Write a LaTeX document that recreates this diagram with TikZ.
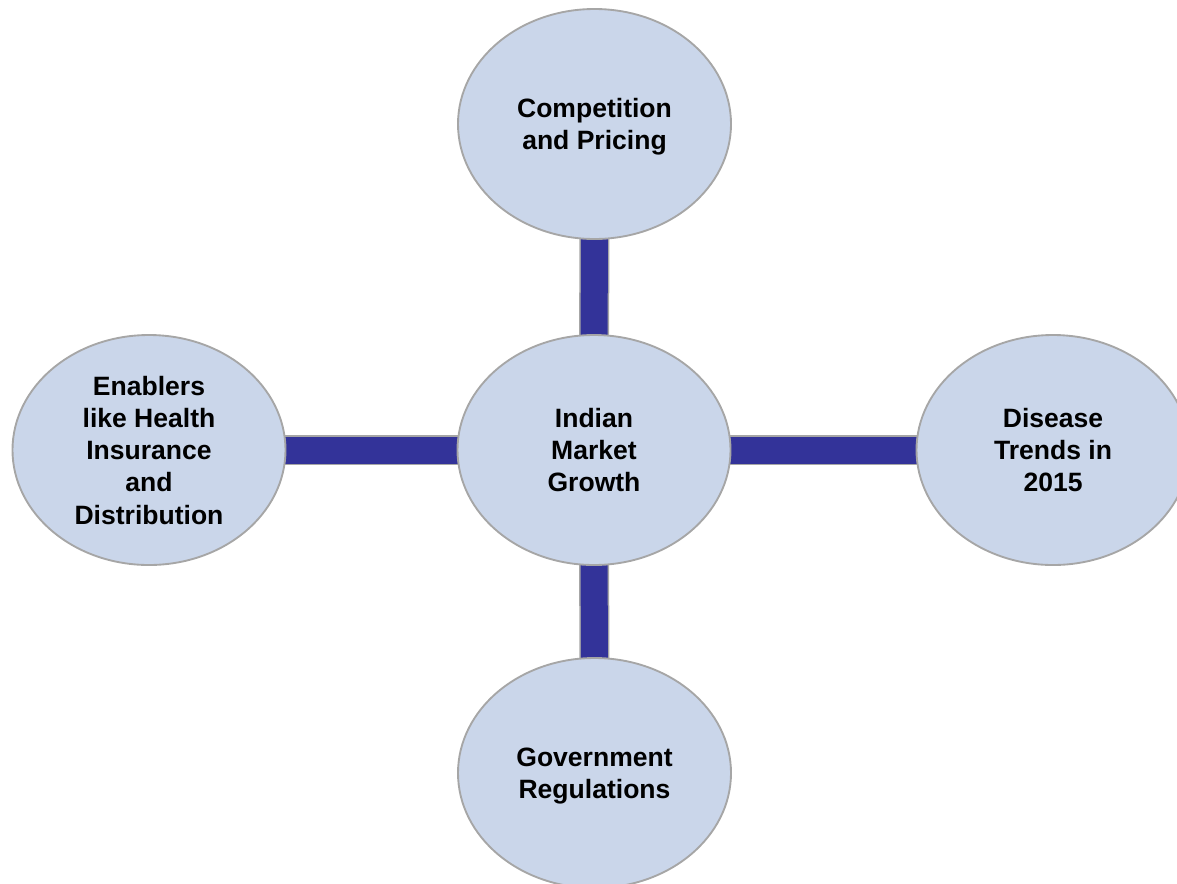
\documentclass[tikz,border=0pt]{standalone}
\usepackage{fontspec}
\setmainfont{Liberation Sans}
\usetikzlibrary{shapes.geometric,backgrounds}
\definecolor{bubblefill}{RGB}{202,214,234}
\definecolor{bubbleline}{RGB}{166,166,166}
\definecolor{barblue}{RGB}{51,51,153}
\tikzset{
  bubble/.style={ellipse, draw=bubbleline, line width=1.4pt, fill=bubblefill,
    minimum width=204.75pt, minimum height=172.5pt, inner sep=0pt,
    align=center, text depth=0pt, font=\fontsize{19.9pt}{24.2pt}\selectfont\bfseries},
  barouter/.style={draw=bubbleline, line width=22.5pt},
  barinner/.style={draw=barblue, line width=20.25pt}
}
\begin{document}
\begin{tikzpicture}[x=0.75pt,y=-0.75pt]
\useasboundingbox (0,0) rectangle (1177,883);
\node[bubble] (mid) at (594,450) {Indian\\Market\\Growth};
\node[bubble] (top) at (594.5,124) {Competition\\and Pricing};
\node[bubble] (bot) at (594.5,773) {Government\\Regulations};
\node[bubble] (lft) at (149,450) {Enablers\\like Health\\Insurance\\and\\Distribution};
\node[bubble] (rgt) at (1053,450) {Disease\\Trends in\\2015};
\begin{scope}[on background layer]
  \foreach \n in {top,bot,lft,rgt}{
    \draw[barouter] (mid.center) -- (\n.center);
    \draw[barinner] (mid.center) -- (\n.center);
  }
\end{scope}
\end{tikzpicture}
\end{document}
